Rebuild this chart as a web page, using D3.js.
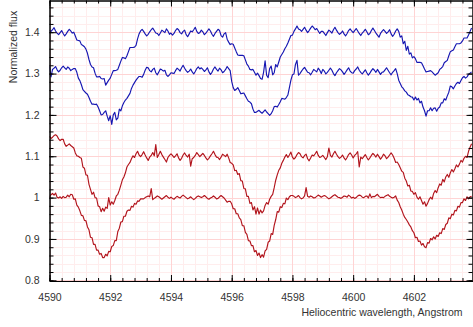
<!DOCTYPE html>
<html>
<head>
<meta charset="utf-8">
<script src="https://cdn.jsdelivr.net/npm/d3@7"></script>
<style>
  html, body { margin: 0; padding: 0; background: #fff; }
  svg { display: block; font-family: "Liberation Sans", Arial, sans-serif; }
</style>
</head>
<body>
<div id="chart"></div>
<script>
// wavelength grid of the spectra (Angstrom)
const lambdaStart = 4590.0;
const lambdaStep = 0.05;

const xTicks = [4590, 4592, 4594, 4596, 4598, 4600, 4602];
const yTicks = [0.8, 0.9, 1, 1.1, 1.2, 1.3, 1.4];

// normalized flux, one value per 0.05 A starting at 4590.00 (20 values per Angstrom)
const fluxBlueTop = [
  1.404, 1.402, 1.406, 1.411, 1.403, 1.398, 1.394, 1.399, 1.404, 1.397, 1.391, 1.396, 1.402, 1.407, 1.403, 1.398, 1.400, 1.391, 1.381, 1.380,
  1.379, 1.370, 1.368, 1.365, 1.359, 1.349, 1.334, 1.322, 1.316, 1.314, 1.301, 1.292, 1.292, 1.293, 1.288, 1.287, 1.288, 1.272, 1.278, 1.284,
  1.289, 1.298, 1.307, 1.307, 1.308, 1.310, 1.320, 1.330, 1.339, 1.338, 1.336, 1.343, 1.353, 1.363, 1.363, 1.363, 1.364, 1.368, 1.384, 1.396,
  1.403, 1.407, 1.402, 1.396, 1.391, 1.395, 1.401, 1.406, 1.410, 1.404, 1.398, 1.397, 1.392, 1.398, 1.405, 1.402, 1.399, 1.408, 1.403, 1.395,
  1.398, 1.393, 1.397, 1.404, 1.409, 1.406, 1.399, 1.396, 1.402, 1.405, 1.394, 1.389, 1.396, 1.403, 1.401, 1.406, 1.412, 1.402, 1.397, 1.399,
  1.405, 1.401, 1.394, 1.398, 1.403, 1.408, 1.403, 1.395, 1.390, 1.397, 1.402, 1.407, 1.404, 1.392, 1.388, 1.396, 1.399, 1.383, 1.376, 1.370,
  1.372, 1.371, 1.362, 1.353, 1.345, 1.344, 1.344, 1.344, 1.343, 1.333, 1.323, 1.318, 1.310, 1.309, 1.310, 1.303, 1.296, 1.301, 1.295, 1.288,
  1.286, 1.303, 1.331, 1.296, 1.290, 1.312, 1.318, 1.297, 1.302, 1.322, 1.316, 1.328, 1.340, 1.346, 1.352, 1.360, 1.366, 1.374, 1.383, 1.392,
  1.393, 1.402, 1.408, 1.415, 1.408, 1.406, 1.402, 1.407, 1.412, 1.405, 1.399, 1.404, 1.410, 1.415, 1.411, 1.406, 1.409, 1.403, 1.397, 1.402,
  1.402, 1.397, 1.392, 1.399, 1.405, 1.402, 1.398, 1.406, 1.412, 1.405, 1.399, 1.395, 1.398, 1.403, 1.396, 1.391, 1.397, 1.404, 1.408, 1.403,
  1.399, 1.404, 1.409, 1.403, 1.397, 1.392, 1.398, 1.402, 1.407, 1.401, 1.394, 1.397, 1.404, 1.410, 1.404, 1.398, 1.393, 1.388, 1.397, 1.402,
  1.406, 1.402, 1.397, 1.401, 1.406, 1.396, 1.390, 1.395, 1.403, 1.408, 1.402, 1.388, 1.391, 1.372, 1.378, 1.356, 1.366, 1.347, 1.350, 1.338,
  1.341, 1.336, 1.327, 1.327, 1.327, 1.326, 1.319, 1.311, 1.304, 1.305, 1.306, 1.307, 1.304, 1.300, 1.296, 1.299, 1.302, 1.310, 1.313, 1.317,
  1.326, 1.329, 1.332, 1.343, 1.353, 1.355, 1.357, 1.365, 1.372, 1.372, 1.372, 1.374, 1.379, 1.386, 1.386, 1.386, 1.393, 1.402, 1.410
];

const fluxBlueBottom = [
  1.317, 1.292, 1.310, 1.313, 1.317, 1.309, 1.304, 1.308, 1.314, 1.318, 1.314, 1.310, 1.316, 1.313, 1.307, 1.310, 1.312, 1.312, 1.303, 1.289,
  1.283, 1.273, 1.261, 1.257, 1.253, 1.250, 1.242, 1.233, 1.226, 1.226, 1.225, 1.226, 1.219, 1.210, 1.200, 1.201, 1.206, 1.210, 1.197, 1.186,
  1.198, 1.177, 1.200, 1.206, 1.188, 1.192, 1.214, 1.210, 1.222, 1.230, 1.236, 1.240, 1.246, 1.252, 1.264, 1.272, 1.278, 1.284, 1.289, 1.293,
  1.293, 1.291, 1.298, 1.308, 1.315, 1.314, 1.307, 1.304, 1.310, 1.313, 1.302, 1.297, 1.304, 1.311, 1.309, 1.306, 1.308, 1.297, 1.293, 1.297,
  1.302, 1.301, 1.300, 1.307, 1.313, 1.310, 1.306, 1.314, 1.320, 1.313, 1.307, 1.303, 1.306, 1.311, 1.304, 1.299, 1.305, 1.312, 1.316, 1.311,
  1.314, 1.310, 1.305, 1.309, 1.314, 1.304, 1.298, 1.303, 1.311, 1.316, 1.310, 1.306, 1.313, 1.309, 1.302, 1.305, 1.310, 1.317, 1.312, 1.307,
  1.281, 1.266, 1.259, 1.262, 1.266, 1.259, 1.251, 1.252, 1.253, 1.246, 1.239, 1.233, 1.231, 1.227, 1.214, 1.206, 1.206, 1.209, 1.211, 1.207,
  1.204, 1.208, 1.212, 1.207, 1.203, 1.199, 1.203, 1.210, 1.220, 1.221, 1.219, 1.225, 1.232, 1.240, 1.239, 1.238, 1.242, 1.248, 1.266, 1.284,
  1.297, 1.299, 1.322, 1.332, 1.296, 1.300, 1.306, 1.311, 1.315, 1.309, 1.303, 1.302, 1.297, 1.303, 1.310, 1.307, 1.304, 1.313, 1.308, 1.300,
  1.310, 1.306, 1.299, 1.303, 1.308, 1.313, 1.308, 1.300, 1.295, 1.302, 1.307, 1.312, 1.309, 1.304, 1.298, 1.303, 1.309, 1.314, 1.306, 1.302,
  1.301, 1.307, 1.311, 1.316, 1.308, 1.303, 1.299, 1.304, 1.309, 1.302, 1.296, 1.301, 1.307, 1.312, 1.308, 1.303, 1.310, 1.304, 1.298, 1.303,
  1.304, 1.309, 1.314, 1.308, 1.302, 1.297, 1.303, 1.307, 1.312, 1.300, 1.284, 1.276, 1.268, 1.264, 1.258, 1.255, 1.249, 1.247, 1.244, 1.243,
  1.236, 1.243, 1.236, 1.240, 1.229, 1.233, 1.219, 1.210, 1.197, 1.210, 1.210, 1.217, 1.210, 1.216, 1.217, 1.209, 1.216, 1.219, 1.229, 1.229,
  1.239, 1.236, 1.246, 1.255, 1.270, 1.268, 1.263, 1.270, 1.276, 1.279, 1.276, 1.283, 1.290, 1.293, 1.289, 1.292, 1.298, 1.301, 1.304
];

const fluxRedTop = [
  1.148, 1.143, 1.146, 1.150, 1.152, 1.149, 1.142, 1.138, 1.141, 1.141, 1.130, 1.124, 1.127, 1.130, 1.126, 1.123, 1.120, 1.108, 1.101, 1.100,
  1.097, 1.095, 1.074, 1.071, 1.055, 1.054, 1.032, 1.020, 1.008, 1.013, 1.000, 0.999, 0.980, 0.978, 0.966, 0.974, 0.967, 0.977, 0.974, 1.000,
  0.982, 0.990, 0.984, 0.993, 1.004, 1.008, 1.018, 1.030, 1.043, 1.050, 1.060, 1.074, 1.080, 1.085, 1.094, 1.101, 1.097, 1.106, 1.112, 1.103,
  1.099, 1.104, 1.111, 1.103, 1.096, 1.090, 1.098, 1.102, 1.109, 1.101, 1.128, 1.097, 1.104, 1.112, 1.104, 1.098, 1.092, 1.086, 1.097, 1.102,
  1.106, 1.102, 1.097, 1.101, 1.106, 1.096, 1.090, 1.095, 1.103, 1.108, 1.102, 1.098, 1.105, 1.076, 1.094, 1.097, 1.102, 1.109, 1.104, 1.099,
  1.103, 1.107, 1.102, 1.096, 1.091, 1.095, 1.101, 1.106, 1.112, 1.104, 1.098, 1.097, 1.092, 1.098, 1.105, 1.102, 1.099, 1.105, 1.096, 1.085,
  1.083, 1.079, 1.065, 1.066, 1.056, 1.058, 1.041, 1.040, 1.022, 1.021, 1.003, 1.003, 0.986, 0.988, 0.970, 0.978, 0.960, 0.975, 0.960, 0.970,
  0.963, 0.968, 0.981, 0.988, 0.984, 0.996, 1.003, 1.008, 1.024, 1.042, 1.055, 1.066, 1.072, 1.083, 1.090, 1.098, 1.104, 1.097, 1.103, 1.110,
  1.098, 1.093, 1.097, 1.104, 1.109, 1.106, 1.099, 1.096, 1.102, 1.105, 1.094, 1.089, 1.096, 1.103, 1.101, 1.106, 1.112, 1.102, 1.097, 1.099,
  1.102, 1.097, 1.092, 1.099, 1.120, 1.102, 1.098, 1.106, 1.112, 1.105, 1.099, 1.095, 1.098, 1.103, 1.096, 1.091, 1.097, 1.104, 1.108, 1.103,
  1.096, 1.102, 1.106, 1.111, 1.074, 1.098, 1.094, 1.099, 1.104, 1.097, 1.091, 1.096, 1.102, 1.107, 1.103, 1.098, 1.105, 1.099, 1.093, 1.098,
  1.105, 1.101, 1.094, 1.098, 1.103, 1.108, 1.103, 1.095, 1.085, 1.086, 1.080, 1.072, 1.064, 1.061, 1.047, 1.040, 1.028, 1.030, 1.016, 1.015,
  1.008, 1.012, 1.001, 0.996, 1.002, 0.993, 0.984, 0.990, 0.979, 0.986, 0.995, 1.001, 0.996, 1.010, 1.017, 1.012, 1.024, 1.033, 1.030, 1.044,
  1.038, 1.050, 1.056, 1.049, 1.060, 1.068, 1.062, 1.070, 1.079, 1.074, 1.081, 1.090, 1.086, 1.095, 1.100, 1.097, 1.112, 1.122, 1.130
];

const fluxRedBottom = [
  1.002, 1.007, 1.010, 1.006, 1.011, 1.001, 0.999, 1.002, 0.998, 1.003, 1.000, 1.001, 1.006, 1.002, 1.008, 1.007, 0.996, 0.997, 0.982, 0.977,
  0.968, 0.957, 0.956, 0.945, 0.944, 0.929, 0.922, 0.904, 0.903, 0.887, 0.887, 0.873, 0.873, 0.863, 0.865, 0.855, 0.855, 0.863, 0.859, 0.870,
  0.869, 0.882, 0.884, 0.896, 0.896, 0.918, 0.926, 0.941, 0.942, 0.955, 0.955, 0.967, 0.970, 0.969, 0.979, 0.977, 0.986, 0.984, 0.992, 0.991,
  0.997, 0.997, 0.997, 1.000, 1.002, 1.004, 1.002, 1.022, 0.995, 0.998, 1.001, 1.004, 1.002, 0.999, 0.996, 0.999, 1.002, 1.005, 1.001, 0.998,
  1.001, 0.998, 0.996, 1.000, 1.003, 1.001, 0.999, 1.003, 1.006, 1.003, 1.000, 0.997, 0.999, 1.002, 0.998, 0.995, 0.998, 1.002, 1.004, 1.002,
  1.000, 1.002, 1.005, 1.002, 0.998, 0.996, 0.999, 1.001, 1.004, 1.001, 0.997, 0.998, 1.002, 1.005, 1.002, 0.999, 0.994, 0.989, 0.991, 0.991,
  0.985, 0.973, 0.973, 0.961, 0.961, 0.951, 0.947, 0.932, 0.932, 0.916, 0.911, 0.896, 0.895, 0.884, 0.884, 0.869, 0.872, 0.860, 0.866, 0.855,
  0.862, 0.856, 0.871, 0.875, 0.892, 0.895, 0.913, 0.911, 0.933, 0.947, 0.966, 0.965, 0.978, 0.976, 0.986, 0.985, 0.999, 0.995, 1.002, 1.005,
  1.005, 1.003, 1.000, 1.002, 1.005, 1.000, 0.997, 0.999, 1.004, 1.024, 1.003, 1.001, 1.004, 1.002, 0.999, 1.000, 1.003, 1.006, 1.004, 1.001,
  1.003, 1.005, 1.003, 1.000, 0.997, 0.999, 1.002, 1.005, 1.007, 1.004, 1.001, 1.000, 0.998, 1.001, 1.004, 1.003, 1.001, 1.006, 1.003, 0.999,
  1.001, 0.998, 1.000, 1.004, 1.006, 1.005, 1.001, 1.000, 1.003, 1.004, 0.999, 1.009, 1.000, 1.003, 1.002, 1.005, 1.008, 1.003, 1.000, 1.001,
  1.000, 1.003, 1.005, 1.007, 1.003, 1.001, 0.999, 1.001, 1.004, 0.994, 0.988, 0.978, 0.970, 0.960, 0.952, 0.947, 0.941, 0.934, 0.929, 0.920,
  0.915, 0.903, 0.904, 0.894, 0.895, 0.885, 0.889, 0.881, 0.879, 0.891, 0.890, 0.901, 0.898, 0.905, 0.900, 0.909, 0.906, 0.915, 0.913, 0.925,
  0.923, 0.935, 0.938, 0.951, 0.949, 0.960, 0.958, 0.969, 0.968, 0.979, 0.977, 0.988, 0.988, 0.997, 0.993, 1.002, 0.997, 1.002, 1.003
];

const seriesList = [
  { values: fluxBlueTop, color: '#1616b2' },
  { values: fluxBlueBottom, color: '#1616b2' },
  { values: fluxRedTop, color: '#b2141c' },
  { values: fluxRedBottom, color: '#b2141c' }
];

const width = 473;
const height = 327;
const plot = { left: 49.5, right: 472.5, top: 0.5, bottom: 281 };

const svg = d3.select('#chart')
  .append('svg')
  .attr('width', width)
  .attr('height', height);

/* Scales */
const xScale = d3.scaleLinear()
  .domain([4590, 4603.93])
  .range([plot.left, plot.right]);

const yScale = d3.scaleLinear()
  .domain([0.7983, 1.4779])
  .range([281, 0]);

const xMinor = d3.range(4590, 4603.9, 0.4).map(v => +v.toFixed(2));
const yMinor = d3.range(0.8, 1.479, 0.02).map(v => +v.toFixed(2));

/* Grid */
const grid = svg.append('g');
const vGrid = (data, color) => grid.append('g')
  .selectAll('line')
  .data(data)
  .enter()
  .append('line')
  .attr('x1', d => Math.round(xScale(d)) + 0.5)
  .attr('x2', d => Math.round(xScale(d)) + 0.5)
  .attr('y1', plot.top)
  .attr('y2', plot.bottom)
  .style('stroke', color);
const hGrid = (data, color) => grid.append('g')
  .selectAll('line')
  .data(data)
  .enter()
  .append('line')
  .attr('x1', plot.left)
  .attr('x2', plot.right)
  .attr('y1', d => Math.round(yScale(d)) + 0.5)
  .attr('y2', d => Math.round(yScale(d)) + 0.5)
  .style('stroke', color);

vGrid(xMinor, '#ffeded');
hGrid(yMinor, '#ffeded');
vGrid(xTicks, '#ffd4d4');
hGrid(yTicks, '#ffd4d4');

/* Spectra */
svg.append('clipPath')
  .attr('id', 'plotClip')
  .append('rect')
  .attr('x', plot.left)
  .attr('y', 0)
  .attr('width', plot.right - plot.left)
  .attr('height', plot.bottom);

const line = d3.line()
  .x((d, i) => xScale(lambdaStart + i * lambdaStep))
  .y(d => yScale(d));

svg.append('g')
  .attr('clip-path', 'url(#plotClip)')
  .selectAll('path')
  .data(seriesList)
  .enter()
  .append('path')
  .attr('d', d => line(d.values))
  .style('fill', 'none')
  .style('stroke', d => d.color)
  .style('stroke-width', 1.15)
  .style('stroke-linejoin', 'round');

/* Axes */
const styleAxis = (g) => {
  g.attr('font-family', '"Liberation Sans", Arial, sans-serif')
    .attr('font-size', 10.5);
  g.selectAll('text').style('fill', '#333');
  g.selectAll('line').style('stroke', '#000');
  g.select('.domain').style('stroke', '#000');
};

const noLabels = () => '';

svg.append('g')
  .attr('transform', 'translate(0,' + plot.bottom + ')')
  .call(d3.axisBottom(xScale).tickValues(xMinor).tickSize(-3).tickSizeOuter(0).tickFormat(noLabels))
  .call(styleAxis);
svg.append('g')
  .attr('transform', 'translate(0,' + plot.bottom + ')')
  .call(d3.axisBottom(xScale).tickValues(xTicks).tickSize(-6).tickSizeOuter(0).tickPadding(13).tickFormat(d3.format('d')))
  .call(styleAxis);

svg.append('g')
  .attr('transform', 'translate(0,' + plot.top + ')')
  .call(d3.axisTop(xScale).tickValues(xMinor).tickSize(-3).tickSizeOuter(0).tickFormat(noLabels))
  .call(styleAxis);
svg.append('g')
  .attr('transform', 'translate(0,' + plot.top + ')')
  .call(d3.axisTop(xScale).tickValues(xTicks).tickSize(-6).tickSizeOuter(0).tickFormat(noLabels))
  .call(styleAxis);

svg.append('g')
  .attr('transform', 'translate(' + plot.left + ',0)')
  .call(d3.axisLeft(yScale).tickValues(yMinor).tickSize(-4).tickSizeOuter(0).tickFormat(noLabels))
  .call(styleAxis);
svg.append('g')
  .attr('transform', 'translate(' + plot.left + ',0)')
  .call(d3.axisLeft(yScale).tickValues(yTicks).tickSize(-7).tickSizeOuter(0).tickPadding(10).tickFormat(d3.format('')))
  .call(styleAxis);

svg.append('g')
  .attr('transform', 'translate(' + plot.right + ',0)')
  .call(d3.axisRight(yScale).tickValues(yMinor).tickSize(-4).tickSizeOuter(0).tickFormat(noLabels))
  .call(styleAxis);
svg.append('g')
  .attr('transform', 'translate(' + plot.right + ',0)')
  .call(d3.axisRight(yScale).tickValues(yTicks).tickSize(-6).tickSizeOuter(0).tickFormat(noLabels))
  .call(styleAxis);

/* Titles */
svg.append('text')
  .attr('x', 462.5)
  .attr('y', 316)
  .attr('text-anchor', 'end')
  .attr('font-size', 10.5)
  .style('fill', '#333')
  .text('Heliocentric wavelength, Angstrom');

svg.append('text')
  .attr('transform', 'translate(16.5,47) rotate(-90)')
  .attr('text-anchor', 'middle')
  .attr('font-size', 10.5)
  .style('fill', '#333')
  .text('Normalized flux');
</script>
</body>
</html>
